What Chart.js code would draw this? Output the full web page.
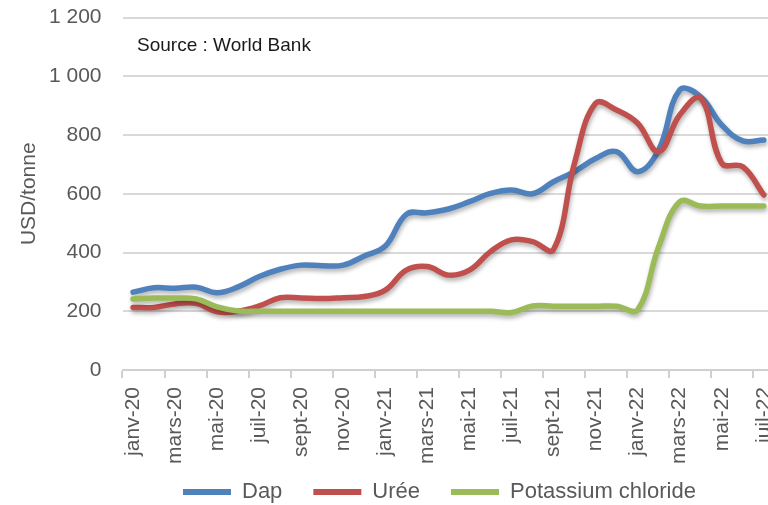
<!DOCTYPE html>
<html>
<head>
<meta charset="utf-8">
<script src="https://cdn.jsdelivr.net/npm/chart.js@4.4.0/dist/chart.umd.min.js"></script>
<style>
  html, body { margin: 0; padding: 0; background: #fff; }
  body { width: 768px; height: 505px; overflow: hidden; }
</style>
</head>
<body>
<!-- the original plot runs past the right edge, so the canvas is wider than the page -->
<canvas id="fertChart" width="798" height="505"></canvas>
<script>
// monthly labels janv-20 .. juil-22
const months = ['janv-20','févr-20','mars-20','avr-20','mai-20','juin-20','juil-20','août-20','sept-20','oct-20','nov-20','déc-20',
  'janv-21','févr-21','mars-21','avr-21','mai-21','juin-21','juil-21','août-21','sept-21','oct-21','nov-21','déc-21',
  'janv-22','févr-22','mars-22','avr-22','mai-22','juin-22','juil-22'];

// USD/tonne
const dap = [265, 280, 278, 282, 263, 283, 318, 343, 357, 355, 357, 388, 422, 530, 535, 548, 573, 601, 613, 600, 641, 675, 720, 743, 675, 749, 953, 930, 834, 780, 783];
const uree = [213, 213, 225, 227, 198, 200, 218, 246, 245, 243, 246, 250, 272, 340, 352, 323, 340, 403, 443, 437, 410, 705, 908, 885, 840, 743, 868, 925, 704, 692, 596];
const potash = [242, 245, 245, 242, 215, 201, 200, 200, 200, 200, 200, 200, 200, 200, 200, 200, 200, 200, 196, 218, 217, 217, 217, 217, 205, 420, 573, 558, 558, 558, 558];

const seriesNames = ['Dap', 'Urée', 'Potassium chloride'];
const seriesColors = ['#4f81bd', '#c0504d', '#9bbb59'];

const yTicks = [0, 200, 400, 600, 800, 1000, 1200];
const sourceNote = 'Source : World Bank';

const fontFam = '"Liberation Sans", Arial, sans-serif';
const legendPad = 31;
const legendFont = 22;
const legendBoxH = 40;   // height the legend takes in the layout
const plotBottom = 370;

function fmtThousands(v) {
    if (v >= 1000) {
        return Math.floor(v / 1000) + ' ' + String(v % 1000).padStart(3, '0');
    }
    return String(v);
}

// shadow under the lines, like the excel original
const lineShadow = {
    id: 'lineShadow',
    beforeDatasetDraw(chart) {
        const ctx = chart.ctx;
        ctx.save();
        ctx.shadowColor = 'rgba(0,0,0,0.3)';
        ctx.shadowBlur = 4;
        ctx.shadowOffsetX = 1;
        ctx.shadowOffsetY = 3;
    },
    afterDatasetDraw(chart) {
        chart.ctx.restore();
    }
};

// keeps the legend small in the layout, then moves it where the original has it
const legendPlace = {
    id: 'legendPlace',
    beforeLayout(chart) {
        const lg = chart.legend;
        if (lg && !lg._fixedFit) {
            const origFit = lg.fit;
            lg.fit = function () {
                origFit.call(this);
                this.height = legendBoxH;
            };
            lg._fixedFit = true;
        }
    },
    afterUpdate(chart) {
        const lg = chart.legend;
        lg.adjustHitBoxes();
        const dx = 183 - lg.legendHitBoxes[0].left;
        lg.left += dx;
        lg.right += dx;
        lg.top = 492 - legendPad - legendFont / 2;
        lg.bottom = 505;
        lg.adjustHitBoxes();
    },
    // longer line samples, running up to the text like in excel
    afterDraw(chart) {
        const lg = chart.legend;
        const ctx = chart.ctx;
        ctx.save();
        ctx.lineWidth = 6;
        ctx.lineCap = 'round';
        lg.legendHitBoxes.forEach(function (hb, i) {
            const y = hb.top + hb.height / 2;
            ctx.strokeStyle = seriesColors[i];
            ctx.beginPath();
            ctx.moveTo(hb.left + 3, y);
            ctx.lineTo(hb.left + 55, y);
            ctx.stroke();
        });
        ctx.restore();
    }
};

const sourceText = {
    id: 'sourceText',
    afterDraw(chart) {
        const ctx = chart.ctx;
        ctx.save();
        ctx.font = '19px ' + fontFam;
        ctx.fillStyle = '#1a1a1a';
        ctx.textAlign = 'left';
        ctx.textBaseline = 'middle';
        ctx.fillText(sourceNote, 137, 46);
        ctx.restore();
    }
};

const allSeries = [dap, uree, potash];
const datasets = allSeries.map(function (vals, i) {
    return {
        label: seriesNames[i],
        data: vals,
        borderColor: seriesColors[i],
        backgroundColor: seriesColors[i],
        borderWidth: 5.5,
        pointRadius: 0,
        tension: 0.4,
        borderCapStyle: 'round',
        borderJoinStyle: 'round',
        order: 2 - i
    };
});

new Chart(document.getElementById('fertChart'), {
    type: 'line',
    data: { labels: months, datasets: datasets },
    options: {
        responsive: false,
        animation: false,
        layout: { padding: { top: 17.5, right: 0, bottom: 0, left: 0 } },
        plugins: {
            tooltip: { enabled: false },
            legend: {
                position: 'bottom',
                labels: {
                    boxWidth: 48,
                    boxHeight: 6,
                    useBorderRadius: true,
                    borderRadius: 3,
                    padding: legendPad,
                    color: '#595959',
                    font: { family: fontFam, size: legendFont },
                    generateLabels(chart) {
                        return seriesNames.map((name, i) => ({
                            text: name,
                            fillStyle: seriesColors[i],
                            strokeStyle: seriesColors[i],
                            lineWidth: 0,
                            datasetIndex: i,
                            fontColor: '#595959'
                        }));
                    }
                }
            }
        },
        scales: {
            x: {
                offset: true,
                grid: {
                    offset: true,
                    drawOnChartArea: false,
                    drawTicks: true,
                    tickLength: 8,
                    lineWidth: 2,
                    color: (c) => (c.index !== undefined && c.index % 2 === 0) ? '#d0d0d0' : 'rgba(0,0,0,0)'
                },
                border: { display: true, color: '#d0d0d0', width: 2 },
                ticks: {
                    autoSkip: false,
                    minRotation: 90,
                    maxRotation: 90,
                    padding: 9,
                    color: '#595959',
                    font: { family: fontFam, size: 21 },
                    callback: function (val, idx) { return idx % 2 === 0 ? months[idx] : ''; }
                },
                afterFit(scale) { scale.height = 505 - legendBoxH - plotBottom; }
            },
            y: {
                min: 0,
                max: 1200,
                afterBuildTicks(scale) { scale.ticks = yTicks.map(v => ({ value: v })); },
                grid: {
                    color: '#d9d9d9',
                    lineWidth: 2,
                    drawTicks: true,
                    tickLength: 17,
                    tickColor: 'rgba(0,0,0,0)'
                },
                border: { display: false },
                ticks: {
                    padding: 4,
                    color: '#595959',
                    font: { family: fontFam, size: 21 },
                    callback: (v) => fmtThousands(v)
                },
                title: {
                    display: true,
                    text: 'USD/tonne',
                    color: '#595959',
                    font: { family: fontFam, size: 21 },
                    padding: { top: 17, bottom: 0 }
                },
                afterFit(scale) { scale.width = 122.5; }
            }
        }
    },
    plugins: [lineShadow, legendPlace, sourceText]
});
</script>
</body>
</html>
